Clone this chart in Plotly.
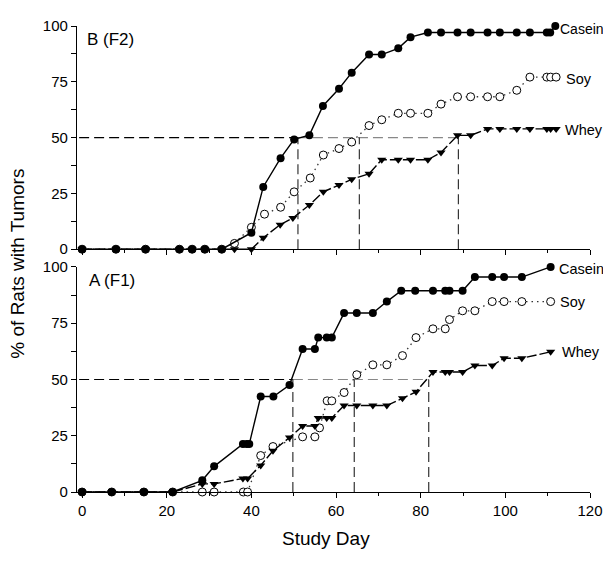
import plotly.graph_objects as go

# ---------------- Data: panel B (F2), top ----------------
b_casein_day = [0, 8, 15, 23, 26, 29, 33, 40, 42.8, 46.9, 50.1, 53.7, 56.9, 60.7, 63.7, 67.8, 70.8, 74.7, 77.6,
                81.7, 84.8, 88.7, 91.8, 95.8, 98.7, 102.7, 105.8, 109.8, 110.6, 111.8]
b_casein_pct = [0, 0, 0, 0, 0, 0, 0, 7.4, 27.9, 40.8, 49.2, 51.1, 64.2, 71.9, 79.1, 87.2, 87.2, 90, 95,
                97.1, 97.1, 97.1, 97.1, 97.1, 97.1, 97.1, 97.1, 97.1, 97.1, 100]
b_soy_day = [0, 8, 15, 23, 26, 29, 33, 36, 40, 43.1, 46.9, 50.1, 53.9, 57, 60.7, 63.7, 67.8, 70.8, 74.7, 77.6,
             81.7, 84.8, 88.7, 91.8, 95.8, 98.7, 102.7, 105.8, 109.8, 110.7, 112]
b_soy_pct = [0, 0, 0, 0, 0, 0, 0, 2.6, 9.8, 15.7, 18.8, 25.7, 31.9, 42.2, 45.1, 48, 55.4, 58, 60.9, 60.9,
             60.9, 65, 68.3, 68.3, 68.3, 68.3, 71.2, 77.1, 77.1, 77.1, 77.1]
b_whey_day = [0, 8, 15, 23, 26, 29, 33, 36, 40, 42.8, 46.8, 49.8, 53.7, 57, 60.7, 63.7, 67.8, 70.8, 74.7, 77.6,
              81.7, 84.8, 88.7, 91.8, 95.8, 98.7, 102.7, 105.8, 109.8, 110.7, 112]
b_whey_pct = [0, 0, 0, 0, 0, 0, 0, 0, 0, 5.1, 11, 14, 19.8, 25.7, 28.8, 31.3, 33.8, 40.1, 40.1, 40.1,
              40.1, 43.3, 51, 51, 53.9, 53.9, 53.9, 53.9, 53.9, 53.9, 53.9]
b_cross = [51, 65.5, 88.9]   # days when 50% reached (Casein, Soy, Whey)

# ---------------- Data: panel A (F1), bottom ----------------
a_casein_day = [0, 7, 14.6, 21.4, 28.4, 31.2, 38, 38.9, 39.5, 42.2, 45.2, 49, 52.1, 55, 55.8, 57.8, 59,
                61.9, 64.9, 68.7, 72, 75.4, 78.7, 82.9, 85.8, 86.8, 89.9, 92.8, 96.9, 99.7, 103.9, 110.7]
a_casein_pct = [0, 0, 0, 0, 5.2, 11.4, 21.3, 21.3, 21.3, 42.4, 42.4, 47.5, 63.5, 63.5, 68.6, 68.6, 68.6,
                79.5, 79.5, 79.5, 84.6, 89.4, 89.4, 89.4, 89.4, 89.4, 89.4, 95.5, 95.5, 95.5, 95.5, 100]
a_soy_day = [0, 7, 14.6, 21.4, 28.4, 31.2, 38.1, 39.1, 42.2, 45.1, 52.1, 55, 56.1, 57.9, 59, 61.9, 64.9,
             68.7, 72, 75.7, 78.9, 82.9, 85.8, 86.8, 89.9, 92.8, 96.9, 99.7, 103.9, 110.7]
a_soy_pct = [0, 0, 0, 0, 0, 0, 0, 0, 16.2, 20.2, 24.5, 24.5, 28.5, 40.5, 40.5, 44.2, 52.1,
             56.5, 56.5, 60.6, 68.6, 72.5, 72.5, 76.6, 80.5, 80.5, 84.6, 84.6, 84.6, 84.6]
a_whey_day = [0, 7, 14.6, 21.4, 28.4, 31.2, 38, 39.1, 42.2, 45.1, 49, 52.1, 55, 55.8, 57.8, 59, 61.9, 64.9,
              68.7, 72, 75.7, 78.9, 82.9, 85.8, 86.8, 89.9, 92.8, 96.9, 99.7, 103.9, 110.7]
a_whey_pct = [0, 0, 0, 0, 3.6, 3.6, 6, 6, 11.8, 18.3, 24.2, 29.3, 29.3, 32.9, 32.9, 32.9, 38.4, 38.4,
              38.4, 38.4, 41.6, 44.5, 53.3, 53.3, 53.3, 53.3, 56.2, 56.2, 59.4, 59.4, 62.3]
a_cross = [49.8, 64.3, 81.9]

series_names = ["Casein", "Soy", "Whey"]
x_ticks = [0, 20, 40, 60, 80, 100, 120]
y_ticks = [0, 25, 50, 75, 100]
half = 50

FONT = "Liberation Sans, Arial, sans-serif"
XMIN, XMAX = -1.2, 120

fig = go.Figure()

styles = {
    "Casein": dict(line=dict(color="black", width=1.4, dash="solid"),
                   marker=dict(symbol="circle", size=8, color="black")),
    "Soy": dict(line=dict(color="#333333", width=1.3, dash="1.5px,4px"),
                marker=dict(symbol="circle", size=8, color="white", line=dict(width=1, color="black"))),
    "Whey": dict(line=dict(color="black", width=1.4, dash="10px,3px"),
                 marker=dict(symbol="triangle-down", size=8, color="black")),
}

panels = [
    ("x2", "y2", [(b_casein_day, b_casein_pct), (b_soy_day, b_soy_pct), (b_whey_day, b_whey_pct)], b_cross),
    ("x", "y", [(a_casein_day, a_casein_pct), (a_soy_day, a_soy_pct), (a_whey_day, a_whey_pct)], a_cross),
]

for xa, ya, data, cross in panels:
    # reference dashed lines (50% crossing)
    fig.add_trace(go.Scatter(x=[XMIN + 0.5, cross[0]], y=[half, half], mode="lines", xaxis=xa, yaxis=ya,
                             line=dict(color="black", width=1.1, dash="10px,5px"), hoverinfo="skip",
                             showlegend=False))
    fig.add_trace(go.Scatter(x=[cross[0], cross[-1]], y=[half, half], mode="lines", xaxis=xa, yaxis=ya,
                             line=dict(color="#888888", width=1.1, dash="10px,5px"), hoverinfo="skip",
                             showlegend=False))
    for c in cross:
        fig.add_trace(go.Scatter(x=[c, c], y=[0, half], mode="lines", xaxis=xa, yaxis=ya,
                                 line=dict(color="#222222", width=1.1, dash="10px,5px"), hoverinfo="skip",
                                 showlegend=False))
    # series (draw Soy first so filled markers sit on top on the baseline)
    for i in [1, 2, 0]:
        name = series_names[i]
        xs, ys = data[i]
        fig.add_trace(go.Scatter(x=xs, y=ys, mode="lines+markers", name=name, xaxis=xa, yaxis=ya,
                                 line=styles[name]["line"], marker=styles[name]["marker"],
                                 cliponaxis=False, showlegend=False))

# series labels at right end: (dx in days, label y in %, font size)
label_pos = {
    "x2": {"Casein": (0.9, 98.8, 14), "Soy": (2.1, 76.3, 14.5), "Whey": (1.9, 53.6, 14.5)},
    "x": {"Casein": (1.8, 99.1, 14.5), "Soy": (2.0, 84.6, 14.5), "Whey": (2.5, 62.4, 14.5)},
}
for xa, ya, data, cross in panels:
    for i, name in enumerate(series_names):
        xs, ys = data[i]
        dx, ly, fs = label_pos[xa][name]
        fig.add_annotation(x=xs[-1] + dx, y=ly, xref=xa, yref=ya, text=name, showarrow=False,
                           xanchor="left", yanchor="middle", xshift=-1,
                           font=dict(family=FONT, size=fs, color="black"))

# panel labels
fig.add_annotation(x=0.7, y=94, xref="x2", yref="y2", text="B (F2)", showarrow=False,
                   xanchor="left", yanchor="middle", font=dict(family=FONT, size=17, color="black"))
fig.add_annotation(x=1.2, y=94, xref="x", yref="y", text="A (F1)", showarrow=False,
                   xanchor="left", yanchor="middle", font=dict(family=FONT, size=17, color="black"))

# axis titles
fig.add_annotation(x=-0.115, y=0.49, xref="paper", yref="paper", text="% of Rats with Tumors", textangle=-90,
                   showarrow=False, xanchor="center", yanchor="middle",
                   font=dict(family=FONT, size=19, color="black"))
fig.add_annotation(x=0.486, y=-0.099, xref="paper", yref="paper", text="Study Day",
                   showarrow=False, xanchor="center", yanchor="middle",
                   font=dict(family=FONT, size=19, color="black"))

axis_common = dict(showline=True, linecolor="black", linewidth=1.2, showgrid=False, zeroline=False,
                   ticks="outside", ticklen=5, tickcolor="black", tickwidth=1,
                   tickfont=dict(family=FONT, size=15, color="black"))

# page body has an 8px default margin, so margins are offset by 8px
fig.update_layout(
    width=611, height=561,
    margin=dict(l=69, r=29, t=9, b=77),
    plot_bgcolor="white", paper_bgcolor="white",
    showlegend=False,
    xaxis=dict(range=[XMIN, XMAX], tickvals=x_ticks, anchor="y", domain=[0, 1],
               minor=dict(dtick=10, ticks="outside", ticklen=3, tickcolor="black"),
               **axis_common),
    xaxis2=dict(range=[XMIN, XMAX], tickvals=x_ticks, anchor="y2", domain=[0, 1], showticklabels=False,
                minor=dict(dtick=10, ticks="outside", ticklen=3, tickcolor="black"),
                **axis_common),
    yaxis=dict(range=[0, 100], tickvals=y_ticks, domain=[0, 0.483], anchor="x",
               minor=dict(dtick=12.5, ticks="outside", ticklen=5, tickcolor="black"), **axis_common),
    yaxis2=dict(range=[0, 100], tickvals=y_ticks, domain=[0.521, 1], anchor="x2",
                minor=dict(dtick=12.5, ticks="outside", ticklen=5, tickcolor="black"), **axis_common),
)

fig.write_html("out.html")
